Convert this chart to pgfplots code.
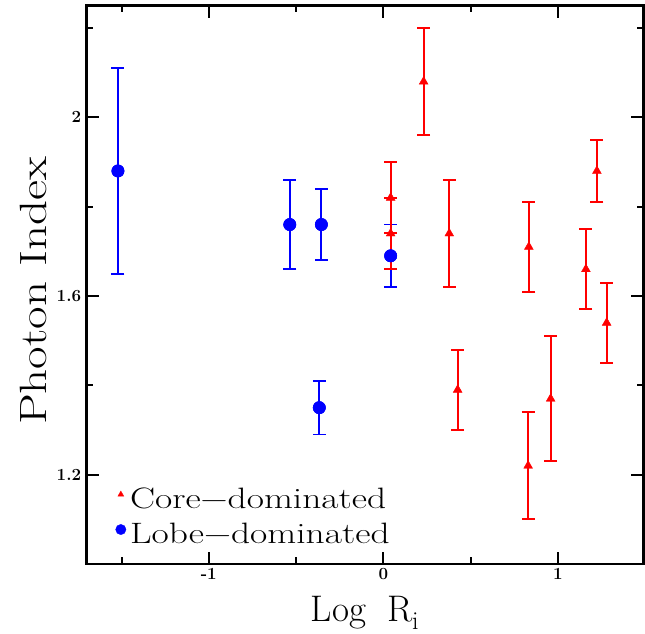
\documentclass[border=0pt]{standalone}
\usepackage{fontspec}
\usepackage{graphicx}
\usepackage{pgfplots}
\pgfplotsset{compat=1.18}
\usepackage{pgfplotstable}

\pgfplotstableread{
x y e
-1.521 1.880 0.230
-0.536 1.760 0.100
-0.355 1.760 0.080
-0.367 1.350 0.060
0.042 1.690 0.070
}\lobe

\pgfplotstableread{
x y e
0.042 1.820 0.080
0.042 1.740 0.080
0.231 2.080 0.120
0.378 1.740 0.120
0.834 1.710 0.100
1.224 1.880 0.070
1.161 1.660 0.090
1.280 1.540 0.090
0.426 1.390 0.090
0.830 1.220 0.120
0.959 1.370 0.140
}\core

\newcommand{\legtext}[1]{\fontsize{29.5}{29.5}\selectfont\scalebox{1.27}[1]{#1}}

\begin{document}
\begin{tikzpicture}
\path[use as bounding box] (-86.7pt,-69pt) rectangle (558.3pt,564pt);
\begin{axis}[
  at={(0pt,0pt)}, anchor=south west,
  scale only axis,
  width=556.6pt, height=558.3pt,
  xmin=-1.7, xmax=1.49,
  ymin=1.0, ymax=2.25,
  xtick={-1,0,1},
  minor xtick={-1.5,-0.5,0.5},
  ytick={1.2,1.6,2.0},
  minor ytick={1.0,1.4,1.8,2.2},
  tick align=inside,
  major tick length=12.5pt,
  minor tick length=6.7pt,
  axis line style={line width=2.4pt},
  every tick/.style={black, line width=2pt},
  every minor tick/.style={black, line width=2pt},
  /pgf/number format/assume math mode=true,
  tick label style={font=\fontsize{17}{17}\selectfont\bfseries},
  xticklabel style={yshift=-1pt},
  yticklabel style={xshift=-2pt},
  xlabel={Log\hspace{21pt}R$_{\mathrm{i}}$},
  ylabel={\scalebox{1.29}[1]{Photon Index}},
  xlabel style={font=\fontsize{37}{37}\selectfont, at={(axis description cs:0.5,-0.1026)}, anchor=base},
  ylabel style={font=\fontsize{38}{38}\selectfont, at={(axis description cs:-0.0718,0.489)}, anchor=base, rotate=0},
  legend style={
    at={(axis description cs:0.052,0.034)}, anchor=south west,
    draw=none, fill=none, inner sep=0pt, outer sep=0pt,
    row sep=13pt, column sep=4pt,
    nodes={inner sep=0pt, outer sep=0pt}
  },
  legend cell align=left,
]
% lobe-dominated with error bars (drawn first)
\addplot[forget plot, only marks, blue, mark=*, mark size=6.2pt, mark options={blue, fill=blue, line width=0.4pt},
  error bars/.cd, y dir=both, y explicit,
  error bar style={blue, line width=1.8pt},
  error mark options={rotate=90, blue, mark size=6.5pt, line width=1.8pt}]
  table[x=x, y=y, y error=e] {\lobe};
% core-dominated
\addplot[only marks, red, mark=triangle*, mark size=5.1pt, mark options={red, fill=red, line width=0.4pt},
  legend image code/.code={\draw[only marks, mark=triangle*, mark size=3.5pt, mark options={red, fill=red, line width=0.3pt}] plot coordinates {(0pt,4.5pt)};},
  error bars/.cd, y dir=both, y explicit,
  error bar style={red, line width=2.2pt},
  error mark options={rotate=90, red, mark size=6.5pt, line width=2pt},
  ]
  table[x=x, y=y, y error=e] {\core};
\addlegendentry{\legtext{Core−dominated}}
% lobe markers on top
\addplot[only marks, blue, mark=*, mark size=6.2pt, mark options={blue, fill=blue, line width=0.4pt},
  legend image code/.code={\draw[only marks, mark=*, mark size=5.2pt, mark options={blue, fill=blue, line width=0.3pt}] plot coordinates {(0pt,4.5pt)};}]
  table[x=x, y=y] {\lobe};
\addlegendentry{\legtext{Lobe−dominated}}
\end{axis}
\end{tikzpicture}
\end{document}
